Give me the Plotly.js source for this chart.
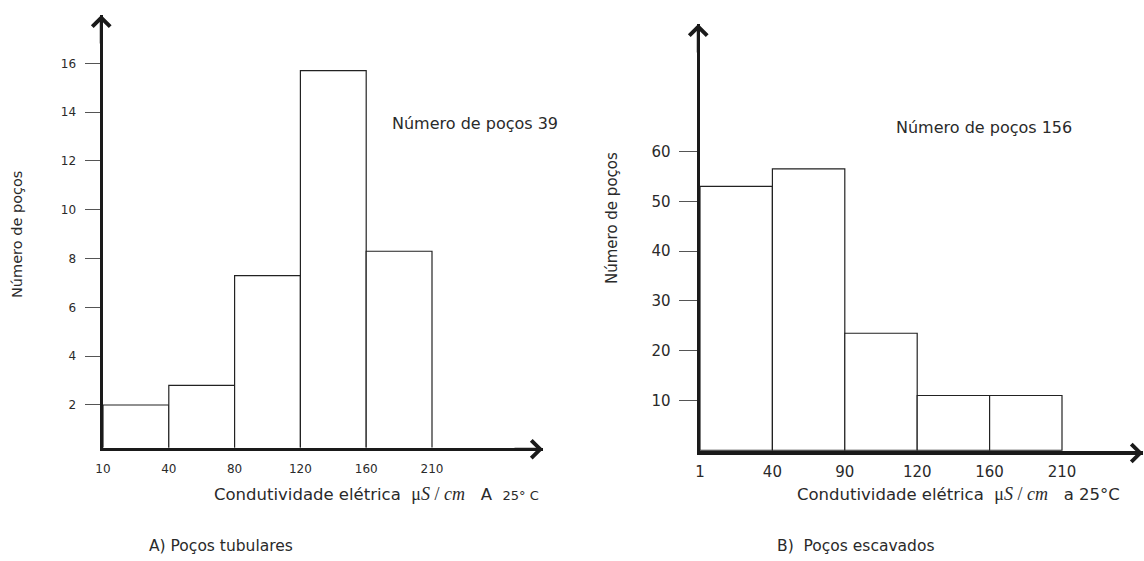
<!DOCTYPE html>
<html><head><meta charset="utf-8">
<script src="https://cdn.plot.ly/plotly-3.0.1.min.js"></script>
<style>html,body{margin:0;padding:0;background:#fff}#chart{width:1144px;height:561px}</style>
</head><body><div id="chart"></div>
<script>
// ---- data ----
const binEdgesA = ['10', '40', '80', '120', '160', '210'];
const countsA = [2.0, 2.8, 7.3, 15.7, 8.3];
const yTicksA = [2, 4, 6, 8, 10, 12, 14, 16];
const totalA = 39;

const binEdgesB = ['1', '40', '90', '120', '160', '210'];
const countsB = [53, 56.5, 23.5, 11, 11];
const yTicksB = [10, 20, 30, 40, 50, 60];
const totalB = 156;

// ---- layout helpers ----
const W = 1144, H = 561;
const px = v => v / W;
const py = v => 1 - v / H;
const FONT = 'DejaVu Sans, sans-serif';
const TXT = '#2a2a2a';
const AX = '#1a1a1a';

const idx = a => a.map((_, i) => i);
const mids = a => a.map((_, i) => i + 0.5);

const traces = [
  {type: 'bar', x: mids(countsA), y: countsA, width: 1, xaxis: 'x', yaxis: 'y',
   marker: {color: '#fff', line: {color: '#222', width: 1.2}}, hoverinfo: 'y'},
  {type: 'bar', x: mids(countsB), y: countsB, width: 1, xaxis: 'x2', yaxis: 'y2',
   marker: {color: '#fff', line: {color: '#222', width: 1.2}}, hoverinfo: 'y'}
];

const arrow = (x, y, ax, ay) => ({
  xref: 'paper', yref: 'paper', x: px(x), y: py(y), ax: ax, ay: ay, text: '',
  showarrow: true, arrowhead: 4, arrowsize: 1.15, arrowwidth: 3, arrowcolor: AX, standoff: 0
});
const label = (text, x, y, size, xanchor, extra) => Object.assign({
  xref: 'paper', yref: 'paper', x: px(x), y: py(y), text: text, showarrow: false,
  xanchor: xanchor || 'center', yanchor: 'middle', font: {family: FONT, size: size, color: TXT}
}, extra || {});

const unit = '<span style="font-family:Liberation Serif;font-size:18px">μ<i>S</i> / <i>cm</i></span>';

const layout = {
  width: W, height: H, margin: {l: 0, r: 0, t: 0, b: 0},
  paper_bgcolor: '#fff', plot_bgcolor: '#fff', showlegend: false,
  bargap: 0,
  xaxis: {domain: [px(103), px(543)], range: [0, (543 - 103) / 65.8], anchor: 'y',
    showline: true, linewidth: 3.5, linecolor: AX, showgrid: false, zeroline: false,
    tickmode: 'array', tickvals: idx(binEdgesA), ticktext: binEdgesA, ticks: '',
    ticklabelstandoff: 8, tickfont: {family: FONT, size: 12, color: TXT}},
  yaxis: {domain: [py(447.5), py(15)], range: [0.258, 17.98], anchor: 'x',
    showline: true, linewidth: 3.5, linecolor: AX, showgrid: false, zeroline: false,
    tickmode: 'array', tickvals: yTicksA, ticks: 'outside', ticklen: 15, tickwidth: 1,
    tickcolor: '#555', ticklabelstandoff: 6, tickfont: {family: FONT, size: 12, color: TXT}},
  xaxis2: {domain: [px(700), px(1143)], range: [0, (1143 - 700) / 72.4], anchor: 'y2',
    showline: true, linewidth: 3.5, linecolor: AX, showgrid: false, zeroline: false,
    tickmode: 'array', tickvals: idx(binEdgesB), ticktext: binEdgesB, ticks: '',
    ticklabelstandoff: 4, tickfont: {family: FONT, size: 15, color: TXT}},
  yaxis2: {domain: [py(451.25), py(24)], range: [-0.2, 85.6], anchor: 'x2',
    showline: true, linewidth: 3.5, linecolor: AX, showgrid: false, zeroline: false,
    tickmode: 'array', tickvals: yTicksB, ticks: 'outside', ticklen: 18, tickwidth: 1,
    tickcolor: '#555', ticklabelstandoff: 5, tickfont: {family: FONT, size: 15, color: TXT}},
  annotations: [
    arrow(101.25, 15, 0, 30),
    arrow(543, 449.25, -30, 0),
    arrow(698.25, 24, 0, 30),
    arrow(1143, 453, -30, 0),
    label('Número de poços ' + totalA, 390, 123, 16, 'left'),
    label('Número de poços ' + totalB, 894, 128, 16, 'left'),
    label('Número de poços', 17, 235, 14.5, 'center', {textangle: -90}),
    label('Número de poços', 612, 218, 15, 'center', {textangle: -90}),
    label('Condutividade elétrica\u00a0\u00a0' + unit + '\u00a0\u00a0\u00a0A\u00a0\u00a0<span style="font-size:13px">25° C</span>', 541, 494, 16.5, 'right'),
    label('Condutividade elétrica\u00a0\u00a0' + unit + '\u00a0\u00a0\u00a0a 25°C', 1122, 494, 16.5, 'right'),
    label('A) Poços tubulares', 147, 546, 15.5, 'left'),
    label('B)\u00a0 Poços escavados', 775, 546, 15.5, 'left')
  ]
};

Plotly.newPlot('chart', traces, layout, {displayModeBar: false, staticPlot: true});
</script>
</body></html>
